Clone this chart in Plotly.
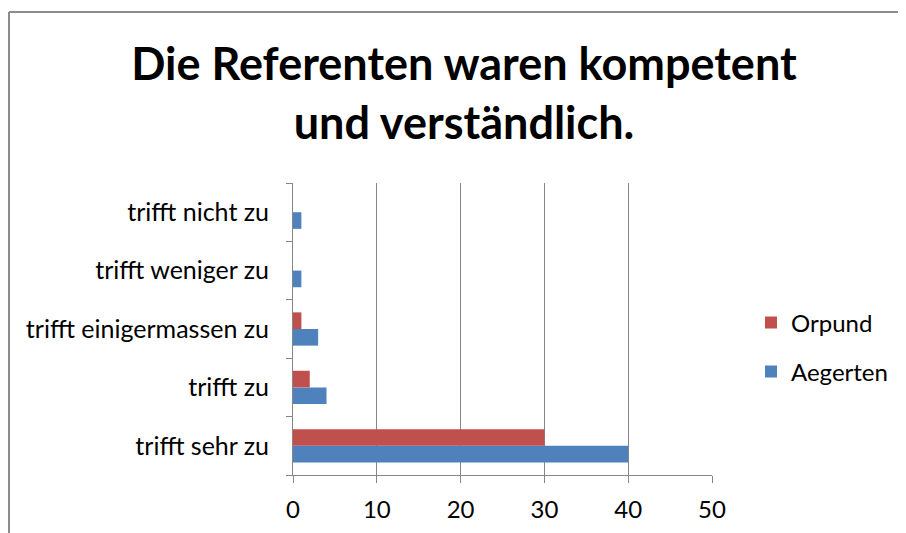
import plotly.graph_objects as go

categories = ["trifft sehr zu", "trifft zu", "trifft einigermassen zu", "trifft weniger zu", "trifft nicht zu"]
orpund = [30, 2, 1, 0, 0]
aegerten = [40, 4, 3, 1, 1]
x_ticks = [0, 10, 20, 30, 40, 50]

# page has an 8px body margin; work in screen coordinates and shift
OFF = 8
W, H = 906 - OFF, 533 - OFF
L, R, T, B = 293 - OFF, 712 - OFF, 183 - OFF, 475 - OFF
FONT = "Lato"

fig = go.Figure()
fig.add_trace(go.Bar(y=categories, x=aegerten, orientation="h", name="Aegerten",
                     marker=dict(color="#4F81BD", line=dict(width=0)), legend="legend2"))
fig.add_trace(go.Bar(y=categories, x=orpund, orientation="h", name="Orpund",
                     marker=dict(color="#C0504D", line=dict(width=0)), legend="legend"))

pw, ph = R - L, B - T
def px_x(x):
    return (x - OFF - L) / pw
def px_y(y):
    return (B - (y - OFF)) / ph

border = dict(color="#8c8c8c", width=2)

fig.update_layout(
    width=W, height=H, showlegend=True,
    margin=dict(l=L, r=W - R, t=T, b=H - B, autoexpand=False),
    paper_bgcolor="white", plot_bgcolor="white",
    barmode="group", bargap=0.43, bargroupgap=0,
    font=dict(family=FONT, size=24, color="#000000"),
    title=dict(text="<b>Die Referenten waren kompetent<br>und verständlich.</b>",
               xref="container", x=(464 - OFF) / W, xanchor="center",
               yref="container", y=1 - (80 - OFF) / H, yanchor="middle",
               font=dict(family=FONT, size=45, color="#000000")),
    xaxis=dict(range=[0, 50], tickvals=x_ticks, ticktext=[str(v) for v in x_ticks],
               showgrid=True, gridcolor="#868686", gridwidth=1,
               showline=True, linecolor="#868686", linewidth=1,
               ticks="outside", ticklen=7, tickcolor="#868686",
               zeroline=False, tickfont=dict(size=24), ticklabelstandoff=6, fixedrange=True),
    yaxis=dict(type="category", categoryorder="array", categoryarray=categories,
               showline=True, linecolor="#868686", linewidth=1,
               ticks="outside", ticklen=6, tickcolor="#868686", tickson="boundaries",
               showgrid=False, tickfont=dict(size=25), ticklabelstandoff=18),
    legend=dict(x=px_x(751), y=px_y(323), xanchor="left", yanchor="middle",
                bgcolor="rgba(0,0,0,0)", font=dict(size=24)),
    legend2=dict(x=px_x(751), y=px_y(372), xanchor="left", yanchor="middle",
                 bgcolor="rgba(0,0,0,0)", font=dict(size=24)),
    shapes=[
        dict(type="line", xref="paper", yref="paper",
             x0=px_x(9), x1=px_x(906), y0=px_y(12), y1=px_y(12), line=border, layer="below"),
        dict(type="line", xref="paper", yref="paper",
             x0=px_x(9), x1=px_x(9), y0=px_y(12), y1=px_y(533), line=border, layer="below"),
    ],
)

fig.write_html("out.html")
